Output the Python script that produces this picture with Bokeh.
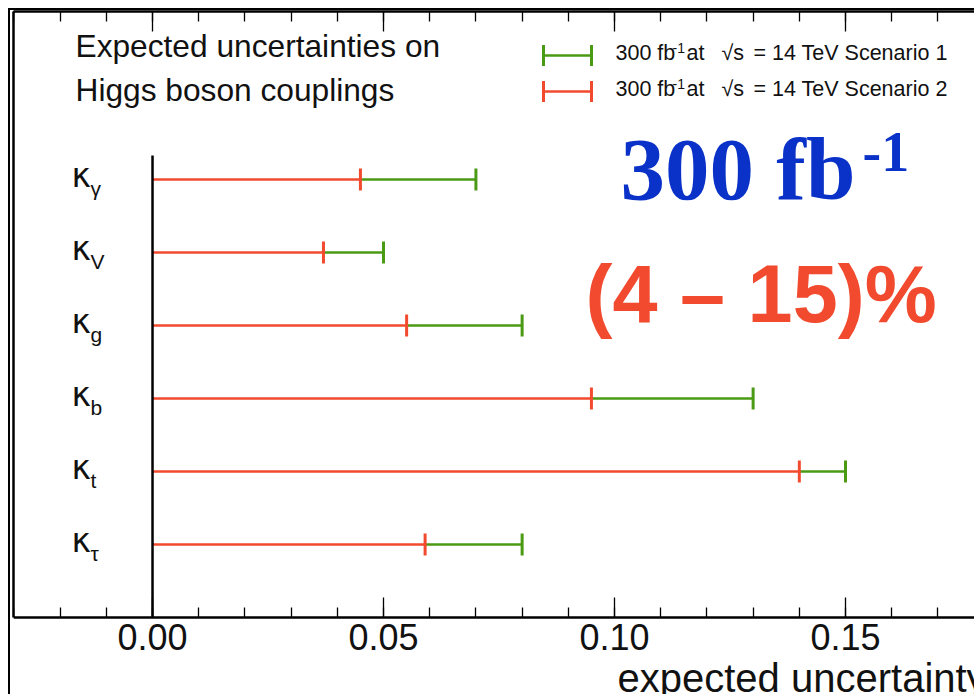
from bokeh.plotting import figure
from bokeh.models import (Range1d, LinearAxis, FixedTicker, PrintfTickFormatter,
                          CustomJSTickFormatter, Label, Whisker, TeeHead, ColumnDataSource)
from bokeh.core.properties import value
from bokeh.embed import file_html
from bokeh.resources import INLINE

# ---------------- data ----------------
subscripts = ["γ", "V", "g", "b", "t", "τ"]
row_pos = [6, 5, 4, 3, 2, 1]
scenario1 = [0.070, 0.050, 0.080, 0.130, 0.150, 0.080]   # green
scenario2 = [0.045, 0.037, 0.055, 0.095, 0.140, 0.059]   # red
major_ticks = [0.00, 0.05, 0.10, 0.15, 0.20]
minor_ticks = [-0.03, -0.02, -0.01, 0.00, 0.01, 0.02, 0.03, 0.04, 0.05, 0.06,
               0.07, 0.08, 0.09, 0.10, 0.11, 0.12, 0.13, 0.14, 0.15, 0.16,
               0.17, 0.18, 0.19, 0.20]

GREEN = "#4a9a14"
RED = "#f24a2e"
BLUE = "#0a32c8"
INK = "#111111"
SANS = "Liberation Sans"
SERIF = "Liberation Serif"

W, H = 966, 686          # canvas; page offset 8px margin + 2px border
FL, FB = 13, 696         # frame left / bottom in page pixels
SHIFT = 0.39             # empirical baseline correction (em)

p = figure(width=W, height=H, output_backend="svg", toolbar_location=None,
           x_range=Range1d(-0.03009, 0.17835), y_range=Range1d(-1.0822, 8.3014),
           x_axis_location=None, y_axis_location=None,
           min_border_left=3, min_border_right=0, min_border_top=1,
           min_border_bottom=0)
p.outline_line_color = None
p.xgrid.visible = False
p.ygrid.visible = False
p.styles = {"margin-left": "8px", "margin-top": "8px",
            "border-left": "2px solid #000", "border-top": "2px solid #000"}

ticker = FixedTicker(ticks=major_ticks, minor_ticks=minor_ticks)
xb = LinearAxis(ticker=ticker, formatter=PrintfTickFormatter(format="%.2f"),
                fixed_location=0,
                axis_line_width=2.5, axis_line_color="black",
                major_tick_in=20, major_tick_out=0, minor_tick_in=10, minor_tick_out=0,
                major_tick_line_width=1.3, minor_tick_line_width=1.3,
                major_label_text_font=SANS, major_label_text_font_size="36px",
                major_label_text_color=INK, major_label_standoff=7)
p.add_layout(xb, "below")
xt = LinearAxis(ticker=ticker, formatter=CustomJSTickFormatter(code="return ''"),
                axis_line_width=2.5, axis_line_color="black",
                major_tick_in=20, major_tick_out=0, minor_tick_in=10, minor_tick_out=0,
                major_tick_line_width=1.3, minor_tick_line_width=1.3,
                major_label_standoff=0)
p.add_layout(xt, "above")
yl = LinearAxis(ticker=FixedTicker(ticks=[]), bounds=(0, 8.31),
                axis_line_width=2.5, axis_line_color="black",
                major_tick_in=0, major_tick_out=0, minor_tick_in=0, minor_tick_out=0,
                major_label_standoff=0)
p.add_layout(yl, "left")

src = ColumnDataSource(dict(y=row_pos, zero=[0.0] * len(row_pos), s1=scenario1,
                            s2=scenario2, sub=subscripts))

# vertical axis line at x = 0
p.segment(x0=0, y0=0, x1=0, y1=max(row_pos) + 0.33, line_color="black", line_width=2.5)

green = Whisker(source=src, base="y", lower="s2", upper="s1", dimension="width",
                line_color=GREEN, line_width=2.5, lower_head=None,
                upper_head=TeeHead(size=22, line_color=GREEN, line_width=3))
red = Whisker(source=src, base="y", lower="zero", upper="s2", dimension="width",
              line_color=RED, line_width=2.5, lower_head=None,
              upper_head=TeeHead(size=22, line_color=RED, line_width=3))
p.add_layout(green)
p.add_layout(red)

# kappa labels
p.text(x="zero", y="y", text=value("κ"), source=src, x_offset=-81,
       y_offset=9 - SHIFT * 33,
       text_font=value("DejaVu Sans"), text_font_size="33px", text_color=INK,
       text_baseline="alphabetic", text_align="left")
p.text(x="zero", y="y", text="sub", source=src, x_offset=-62,
       y_offset=17 - SHIFT * 21,
       text_font=value(SANS), text_font_size="21px", text_color=INK,
       text_baseline="alphabetic", text_align="left")


def lab(text, rx, ry, size, color=INK, font=SANS, style="normal"):
    p.add_layout(Label(x=rx - FL, y=FB - (ry - SHIFT * size),
                       x_units="screen", y_units="screen",
                       text=text, text_font=font, text_font_size=f"{size}px",
                       text_color=color, text_font_style=style,
                       text_baseline="alphabetic", text_align="left"))


lab("Expected uncertainties on", 75, 58, 31.7)
lab("Higgs boson couplings", 75, 102, 31.7)

for ry, col, name in [(61, GREEN, "Scenario 1"), (97, RED, "Scenario 2")]:
    lab("300 fb", 615, ry, 21.5)
    lab("-1", 672, ry - 8, 14)
    lab("at", 686, ry, 21.5)
    lab("√s", 721, ry, 21.5)
    lab("= 14 TeV " + name, 753, ry, 21.5)
    key = ColumnDataSource(dict(b=[FB - (ry - 6)], lo=[543 - FL], up=[591 - FL]))
    p.add_layout(Whisker(source=key, base="b", lower="lo", upper="up",
                         base_units="screen", lower_units="screen", upper_units="screen",
                         dimension="width", line_color=col, line_width=2.5,
                         lower_head=TeeHead(size=21, line_color=col, line_width=3),
                         upper_head=TeeHead(size=21, line_color=col, line_width=3)))

lab("300 fb", 620, 203, 89, color=BLUE, font=SERIF, style="bold")
lab("-1", 862, 173, 56, color=BLUE, font=SERIF, style="bold")
lab("(4 – 15)%", 585, 325, 81, color=RED, font=SANS, style="bold")

lab("expected uncertainty", 617, 693, 40)

open("out.html", "w").write(file_html(p, INLINE))
